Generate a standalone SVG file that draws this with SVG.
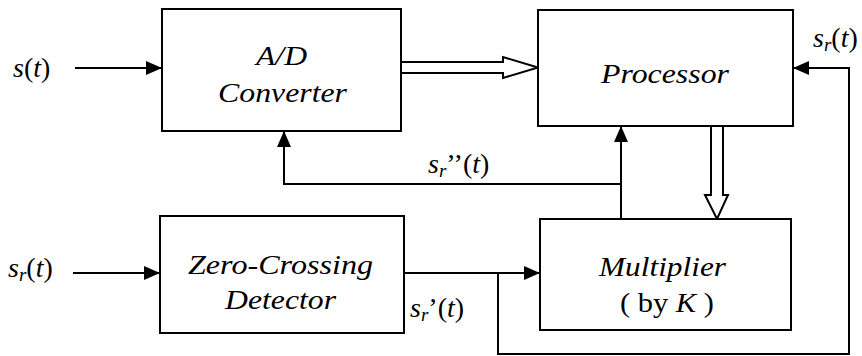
<svg xmlns="http://www.w3.org/2000/svg" width="862" height="356" viewBox="0 0 862 356">
<style>
.box{fill:#fff;stroke:#000;stroke-width:2}
.ln{fill:none;stroke:#000;stroke-width:2}
.dbl{fill:#fff;stroke:#000;stroke-width:2;stroke-linejoin:miter}
text{font-family:'Liberation Serif','Times New Roman','DejaVu Serif',serif;font-style:italic;font-size:27px;fill:#000}
.lab{font-size:28px}
.u{font-style:normal}
.sub{font-size:19px}
</style>
<defs>
<marker id="ah" markerUnits="userSpaceOnUse" markerWidth="16" markerHeight="14" viewBox="0 0 16 14" refX="16" refY="7" orient="auto">
<path d="M0,0 L16,7 L0,14 z" fill="#000"/>
</marker>
</defs>
<rect width="862" height="356" fill="#fff"/>
<g id="connectors">
<line class="ln" x1="75" y1="68" x2="162" y2="68" marker-end="url(#ah)"/>
<line class="ln" x1="73" y1="273" x2="160" y2="273" marker-end="url(#ah)"/>
<polygon class="dbl" points="401,62 503,62 503,57 538,67.5 503,78 503,73 401,73"/>
<polygon class="dbl" points="711,126 723,126 723,195 728,195 717,219 705,195 711,195"/>
<line class="ln" x1="621" y1="219" x2="621" y2="126" marker-end="url(#ah)"/>
<polyline class="ln" points="621,184 284,184 284,131" marker-end="url(#ah)"/>
<line class="ln" x1="404" y1="273" x2="540" y2="273" marker-end="url(#ah)"/>
<polyline class="ln" points="498,273 498,354 849,354 849,68 793,68" marker-end="url(#ah)"/>
</g>
<g id="ad">
<rect class="box" x="162" y="9" width="239" height="122"/>
<text x="256" y="65" textLength="51" lengthAdjust="spacingAndGlyphs">A/D</text>
<text x="218" y="102" textLength="129" lengthAdjust="spacingAndGlyphs">Converter</text>
</g>
<g id="processor">
<rect class="box" x="538" y="10" width="255" height="116"/>
<text x="601" y="83" textLength="128" lengthAdjust="spacingAndGlyphs">Processor</text>
</g>
<g id="zcd">
<rect class="box" x="160" y="216" width="244" height="117"/>
<text x="188" y="274" textLength="185" lengthAdjust="spacingAndGlyphs">Zero-Crossing</text>
<text x="225" y="309" textLength="111" lengthAdjust="spacingAndGlyphs">Detector</text>
</g>
<g id="multiplier">
<rect class="box" x="540" y="219" width="251" height="111"/>
<text x="599" y="276" textLength="127" lengthAdjust="spacingAndGlyphs">Multiplier</text>
<text x="620" y="312" textLength="94" lengthAdjust="spacingAndGlyphs"><tspan class="u">( by </tspan>K<tspan class="u"> )</tspan></text>
</g>
<g id="labels">
<text class="lab" x="13" y="77">s<tspan class="u">(</tspan>t<tspan class="u">)</tspan></text>
<text class="lab" x="8" y="277">s<tspan class="sub" dy="4">r</tspan><tspan class="u" dy="-4">(</tspan>t<tspan class="u">)</tspan></text>
<text class="lab" x="813" y="47">s<tspan class="sub" dy="4">r</tspan><tspan class="u" dy="-4">(</tspan>t<tspan class="u">)</tspan></text>
<text class="lab" x="428" y="173">s<tspan class="sub" dy="4">r</tspan><tspan class="u" dy="-4">’’(</tspan>t<tspan class="u">)</tspan></text>
<text class="lab" x="410" y="317">s<tspan class="sub" dy="4">r</tspan><tspan class="u" dy="-4">’(</tspan>t<tspan class="u">)</tspan></text>
</g>
</svg>
